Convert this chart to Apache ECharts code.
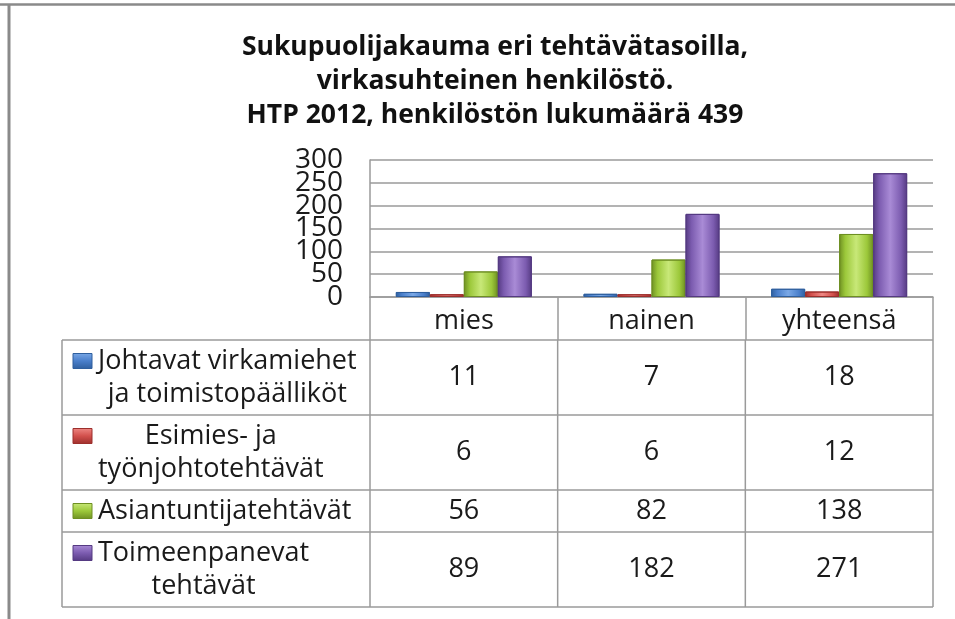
<!DOCTYPE html>
<html>
<head>
<meta charset="utf-8">
<script src="https://cdn.jsdelivr.net/npm/echarts@6/dist/echarts.min.js"></script>
<style>
html, body { margin: 0; padding: 0; background: #fff; }
#main { width: 955px; height: 619px; }
</style>
</head>
<body>
<div id="main"></div>
<script>
// data
var titleLines = [
    'Sukupuolijakauma eri tehtävätasoilla,',
    'virkasuhteinen henkilöstö.',
    'HTP 2012, henkilöstön lukumäärä 439'
];
var categories = ['mies', 'nainen', 'yhteensä'];
var seriesNames = [
    'Johtavat virkamiehet\nja toimistopäälliköt',
    'Esimies- ja\ntyönjohtotehtävät',
    'Asiantuntijatehtävät',
    'Toimeenpanevat\ntehtävät'
];
var johtavat = [11, 7, 18];
var esimies = [6, 6, 12];
var asiantuntija = [56, 82, 138];
var toimeenpanevat = [89, 182, 271];
var yTickLabels = [0, 50, 100, 150, 200, 250, 300];

var seriesData = [johtavat, esimies, asiantuntija, toimeenpanevat];

// colours: [dark, base, light]
var palette = [
    ['#2f5f9e', '#4a7fcb', '#7aa8e6'],
    ['#9c2f2c', '#d2504c', '#ee8884'],
    ['#6e8f22', '#9cc83a', '#c8e878'],
    ['#553a82', '#7c5cb0', '#a98bd6']
];

var font = '"Open Sans", "DejaVu Sans", sans-serif';
var gridColor = '#9a9a9a';

// layout of plot + data table
var plotLeft = 370, plotRight = 933, plotTop = 160, plotBottom = 297;
var tableLeft = 62, headerH = 43, lineH = 33, rowPad = 9;
var textSize = 27;

function barGradient(c) {
    return new echarts.graphic.LinearGradient(0, 0, 1, 0, [
        {offset: 0, color: c[0]},
        {offset: 0.18, color: c[1]},
        {offset: 0.5, color: c[2]},
        {offset: 0.82, color: c[1]},
        {offset: 1, color: c[0]}
    ]);
}

var measureCtx = document.createElement('canvas').getContext('2d');
measureCtx.font = textSize + 'px ' + font;

function buildTable() {
    var els = [];
    var colW = (plotRight - plotLeft) / categories.length;
    var line = function (x1, y1, x2, y2, w, c) {
        els.push({type: 'line', shape: {x1: x1, y1: y1, x2: x2, y2: y2},
            style: {stroke: c || gridColor, lineWidth: w || 1.5}, silent: true});
    };
    var y = plotBottom + headerH;
    var tableTop = y;
    line(tableLeft, y, plotRight, y);
    seriesNames.forEach(function (name, i) {
        var lines = name.split('\n');
        var h = rowPad + lineH * lines.length;
        var mid = y + h / 2;
        var firstLine = mid - (lines.length - 1) * lineH / 2;
        // legend key
        els.push({type: 'rect', shape: {x: 73, y: firstLine - 7.5, width: 19, height: 15},
            style: {fill: new echarts.graphic.LinearGradient(0, 0, 0, 1, [
                {offset: 0, color: palette[i][2]},
                {offset: 0.5, color: palette[i][1]},
                {offset: 1, color: palette[i][0]}
            ]), stroke: palette[i][0], lineWidth: 1}, silent: true});
        // label, lines centred inside the block
        var maxW = 0;
        lines.forEach(function (l) { maxW = Math.max(maxW, measureCtx.measureText(l).width); });
        els.push({type: 'text', x: 98 + maxW / 2, y: mid,
            style: {text: name, font: textSize + 'px ' + font, fill: '#1a1a1a',
                align: 'center', verticalAlign: 'middle', lineHeight: lineH}, silent: true});
        // values
        seriesData[i].forEach(function (v, j) {
            els.push({type: 'text', x: plotLeft + colW * (j + 0.5), y: mid,
                style: {text: String(v), font: textSize + 'px ' + font, fill: '#1a1a1a',
                    align: 'center', verticalAlign: 'middle'}, silent: true});
        });
        y += h;
        line(tableLeft, y, plotRight, y);
    });
    line(tableLeft, tableTop, tableLeft, y);
    for (var k = 0; k <= categories.length; k++) {
        var x = plotLeft + colW * k;
        line(x, tableTop, x, y);
    }
    // outer frame
    line(0, 4.5, 955, 4.5, 2.5, '#8a8a8a');
    line(9, 4, 9, 619, 3, '#8a8a8a');
    return els;
}

var myChart = echarts.init(document.getElementById('main'));
var option = {
    animation: false,
    title: {
        text: titleLines.join('\n'),
        left: 490,
        top: 25,
        textAlign: 'center',
        textStyle: {fontFamily: font, fontSize: 26.5, fontWeight: 'bold', color: '#111', lineHeight: 34}
    },
    grid: {left: plotLeft, right: 955 - plotRight, top: plotTop, bottom: 619 - plotBottom, containLabel: false},
    xAxis: {
        type: 'category',
        data: categories,
        axisLine: {show: true, lineStyle: {color: gridColor, width: 1.5}},
        axisTick: {show: true, length: headerH, interval: 0, lineStyle: {color: gridColor, width: 1.5}},
        axisLabel: {fontFamily: font, fontSize: textSize, color: '#1a1a1a', margin: 24,
            verticalAlign: 'middle', lineHeight: 26}
    },
    yAxis: {
        type: 'value',
        min: yTickLabels[0], max: yTickLabels[yTickLabels.length - 1],
        interval: yTickLabels[1] - yTickLabels[0],
        axisLine: {show: true, lineStyle: {color: gridColor, width: 1.5}},
        axisTick: {show: false},
        splitLine: {lineStyle: {color: gridColor, width: 1.5}},
        axisLabel: {show: false}
    },
    series: seriesData.map(function (d, i) {
        return {
            name: seriesNames[i],
            type: 'bar',
            data: d,
            barWidth: 34,
            barGap: '0%',
            itemStyle: {color: barGradient(palette[i]), borderColor: palette[i][0], borderWidth: 1}
        };
    }),
    graphic: buildTable()
};
myChart.setOption(option);

// y tick labels are tightly packed (Excel style), so place them through the axis scale
var yLabelEls = yTickLabels.map(function (v) {
    return {type: 'text', x: plotLeft - 27, y: myChart.convertToPixel({yAxisIndex: 0}, v),
        style: {text: String(v), font: '28px ' + font, fill: '#1a1a1a',
            align: 'right', verticalAlign: 'middle'}, silent: true};
});
myChart.setOption({graphic: buildTable().concat(yLabelEls)});
</script>
</body>
</html>
